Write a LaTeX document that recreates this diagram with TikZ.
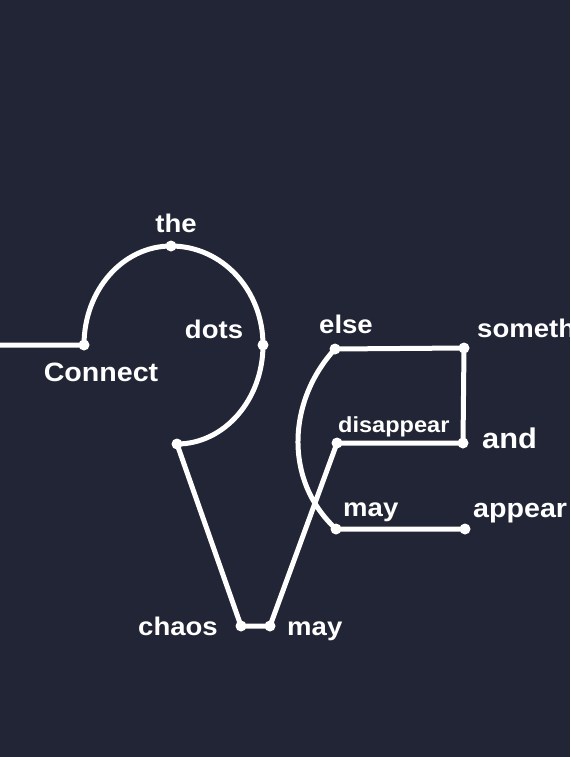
\documentclass[tikz,border=0pt]{standalone}
\usepackage{fontspec}
\setmainfont{Liberation Sans}[FakeStretch=1.08]
\definecolor{bg}{RGB}{33,37,53}
\tikzset{
  lbl/.style={text=white, inner sep=0pt, font=\bfseries\fontsize{25.5}{25.5}\selectfont},
  pt/.style={circle, fill=white, minimum size=11pt, inner sep=0pt},
  ln/.style={draw=white, line width=5pt, line join=round, line cap=round}
}
\begin{document}
\begin{tikzpicture}[x=1pt,y=-1pt]
\useasboundingbox (0,0) rectangle (570,757);
\clip (0,0) rectangle (570,757);
\fill[bg] (0,0) rectangle (570,757);
% dots
\coordinate (start) at (0,345);
\node[pt] (connect) at (84,345) {};
\node[pt] (the) at (171,246) {};
\node[pt] (dots) at (263,345) {};
\node[pt] (bend) at (177,444) {};
\node[pt] (chaos) at (241,626) {};
\node[pt] (may1) at (270,626) {};
\node[pt] (disappear) at (337,443) {};
\node[pt] (and) at (463,443) {};
\node[pt] (something) at (464,348) {};
\node[pt] (else) at (335,349) {};
\node[pt] (may2) at (336,529) {};
\node[pt] (appear) at (465,529) {};
% connectors
\draw[ln] (start) -- (connect.center)
  .. controls (84,290) and (123,246) .. (the.center)
  .. controls (222,246) and (263,290) .. (dots.center)
  .. controls (263,400) and (224,444) .. (bend.center)
  -- (chaos.center) -- (may1.center) -- (disappear.center)
  -- (and.center) -- (something.center) -- (else.center)
  .. controls (288,400) and (283,480) .. (may2.center)
  -- (appear.center);
% labels
\node[lbl, anchor=base] (tThe) at (176,232) {the};
\node[lbl, anchor=base, font=\bfseries\fontsize{26.5}{26.5}\selectfont] (tConnect) at (101,381) {Connect};
\node[lbl, anchor=base] (tDots) at (214,338) {dots};
\node[lbl, anchor=base] (tElse) at (346,333) {else};
\node[lbl, anchor=base west] (tSomething) at (477,337) {something};
\node[lbl, anchor=base west, font=\bfseries\fontsize{21.8}{21.8}\selectfont] (tDisappear) at (338,432) {disappear};
\node[lbl, anchor=base west, font=\bfseries\fontsize{28.5}{28.5}\selectfont] (tAnd) at (482,448) {and};
\node[lbl, anchor=base west] (tMay2) at (343,516) {may};
\node[lbl, anchor=base west, font=\bfseries\fontsize{26.5}{26.5}\selectfont] (tAppear) at (473,517) {appear};
\node[lbl, anchor=base west] (tChaos) at (138,635) {chaos};
\node[lbl, anchor=base west] (tMay1) at (287,635) {may};
\end{tikzpicture}
\end{document}
